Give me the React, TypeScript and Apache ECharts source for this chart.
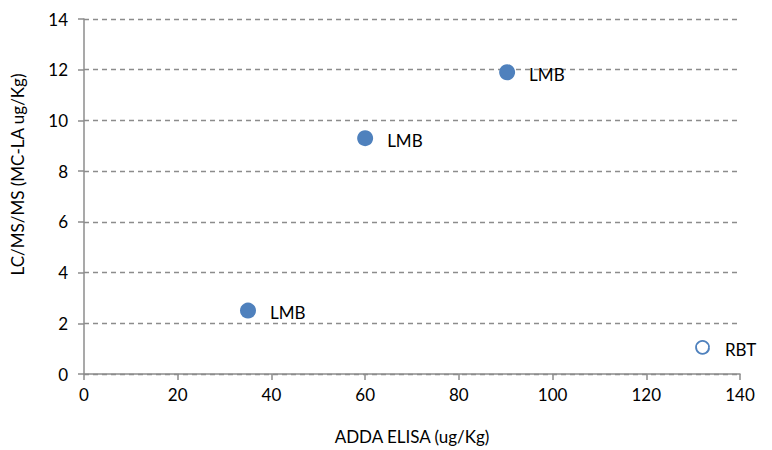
import React, { useEffect, useRef } from "react";
import * as echarts from "echarts";

const lmbX = [35, 60, 90.3];
const lmbY = [2.5, 9.3, 11.9];
const lmbLabels = ["LMB", "LMB", "LMB"];
const rbtX = [132];
const rbtY = [1.05];
const rbtLabels = ["RBT"];

const FONT = "Lato, 'Open Sans', sans-serif";
const FS = 17;

export default function App() {
  const ref = useRef<HTMLDivElement>(null);
  useEffect(() => {
    if (!ref.current) return;
    const chart = echarts.init(ref.current, undefined, { renderer: "svg" });
    chart.setOption({
      animation: false,
      backgroundColor: "#fff",
      textStyle: { fontFamily: FONT },
      grid: { left: 84, right: 32, top: 19, bottom: 76 },
      xAxis: {
        type: "value",
        min: 0,
        max: 140,
        interval: 20,
        name: "ADDA ELISA (ug/Kg)",
        nameLocation: "middle",
        nameGap: 54,
        nameTextStyle: { color: "#000", fontSize: FS, fontFamily: FONT },
        axisLine: { lineStyle: { color: "#8c8c8c", width: 1.5 } },
        axisTick: { show: true, length: 6, lineStyle: { color: "#8c8c8c", width: 1.5 } },
        axisLabel: { color: "#000", fontSize: FS, margin: 12, fontFamily: FONT },
        splitLine: { show: false },
      },
      yAxis: {
        type: "value",
        min: 0,
        max: 14,
        interval: 2,
        name: "LC/MS/MS (MC-LA ug/Kg)",
        nameLocation: "middle",
        nameGap: 58,
        nameTextStyle: { color: "#000", fontSize: FS, fontFamily: FONT, padding: [0, 0, 0, 44] },
        axisLine: { show: true, lineStyle: { color: "#8c8c8c", width: 1.5 } },
        axisTick: { show: true, length: 6, lineStyle: { color: "#8c8c8c", width: 1.5 } },
        axisLabel: { color: "#000", fontSize: FS, margin: 16, fontFamily: FONT },
        splitLine: { show: true, lineStyle: { color: "#8c8c8c", type: [5, 4], width: 1.3 } },
      },
      series: [
        {
          type: "scatter",
          data: lmbX.map((x, i) => ({ value: [x, lmbY[i]], name: lmbLabels[i] })),
          symbol: "circle",
          symbolSize: 16,
          itemStyle: { color: "#4F81BD", opacity: 1 },
          label: {
            show: true,
            position: "right",
            distance: 14,
            offset: [0, 2],
            formatter: "{b}",
            color: "#000",
            fontSize: FS,
            fontFamily: FONT,
          },
        },
        {
          type: "scatter",
          data: rbtX.map((x, i) => ({ value: [x, rbtY[i]], name: rbtLabels[i] })),
          symbol: "circle",
          symbolSize: 13,
          itemStyle: { color: "#fff", borderColor: "#4F81BD", borderWidth: 1.8, opacity: 1 },
          label: {
            show: true,
            position: "right",
            distance: 15,
            offset: [0, 2],
            formatter: "{b}",
            color: "#000",
            fontSize: FS,
            fontFamily: FONT,
          },
        },
      ],
    });
    return () => chart.dispose();
  }, []);
  return <div ref={ref} style={{ width: 772, height: 450, marginLeft: -8, marginTop: -8 }} />;
}
